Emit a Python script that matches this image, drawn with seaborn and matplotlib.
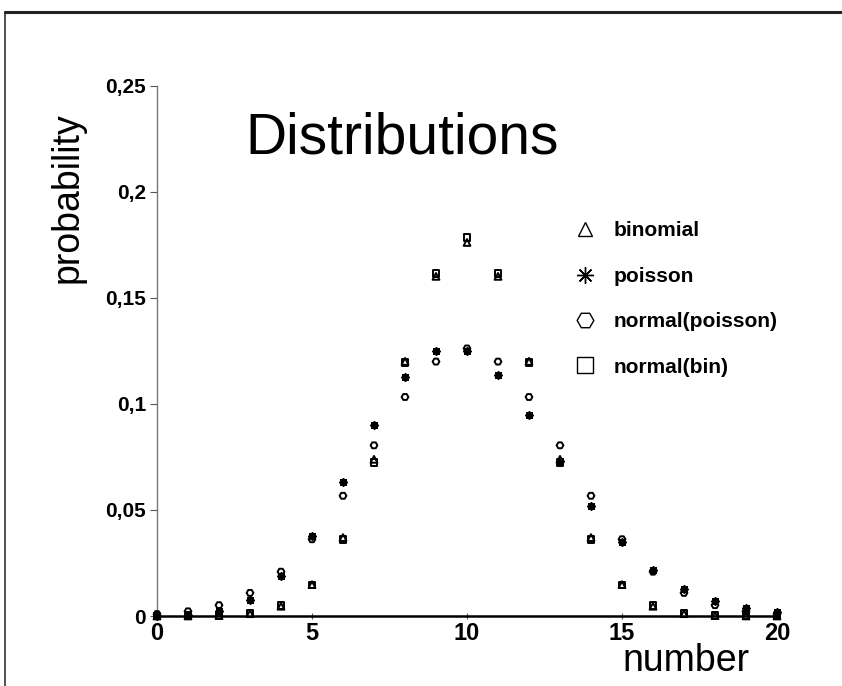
import matplotlib
matplotlib.use("Agg")
import matplotlib.pyplot as plt
import seaborn as sns
import pandas as pd
from matplotlib.lines import Line2D

number = list(range(0, 21))
binomial = [0.000001, 0.00002, 0.0002, 0.0011, 0.0046, 0.0148, 0.0370, 0.0739, 0.1201, 0.1602,
            0.1762, 0.1602, 0.1201, 0.0739, 0.0370, 0.0148, 0.0046, 0.0011, 0.0002, 0.00002, 0.000001]
poisson = [0.00005, 0.0005, 0.0023, 0.0076, 0.0189, 0.0378, 0.0631, 0.0901, 0.1126, 0.1251,
           0.1251, 0.1137, 0.0948, 0.0729, 0.0521, 0.0347, 0.0217, 0.0128, 0.0071, 0.0037, 0.0019]
normal_poisson = [0.0009, 0.0022, 0.0051, 0.0109, 0.0209, 0.0362, 0.0567, 0.0805, 0.1033, 0.1200,
                  0.1262, 0.1200, 0.1033, 0.0805, 0.0567, 0.0362, 0.0209, 0.0109, 0.0051, 0.0022, 0.0009]
normal_bin = [0.0000, 0.00005, 0.0003, 0.0013, 0.0049, 0.0146, 0.0360, 0.0725, 0.1196, 0.1614,
              0.1784, 0.1614, 0.1196, 0.0725, 0.0360, 0.0146, 0.0049, 0.0013, 0.0003, 0.00005, 0.0000]
series_names = ["binomial", "poisson", "normal(poisson)", "normal(bin)"]
y_ticks = [0, 0.05, 0.1, 0.15, 0.2, 0.25]
y_tick_labels = ["0", "0,05", "0,1", "0,15", "0,2", "0,25"]
x_ticks = [0, 5, 10, 15, 20]

df = pd.DataFrame({
    "number": number * 4,
    "probability": binomial + poisson + normal_poisson + normal_bin,
    "dist": sum([[n] * len(number) for n in series_names], []),
})

sns.set_theme(style="white")
plt.rcParams["font.family"] = ["Liberation Sans", "DejaVu Sans"]
plt.rcParams["text.color"] = "black"
plt.rcParams["xtick.color"] = "black"
plt.rcParams["ytick.color"] = "black"

fig = plt.figure(figsize=(8.42, 6.86), dpi=100)
ax = fig.add_axes([157 / 842, 1 - 616 / 686, (777 - 157) / 842, (616 - 86) / 686])

markers = {"binomial": "^", "poisson": (8, 2, 0), "normal(poisson)": "H", "normal(bin)": "s"}
for name in ["normal(bin)", "normal(poisson)", "poisson", "binomial"]:
    sub = df[df["dist"] == name]
    sns.scatterplot(data=sub, x="number", y="probability", marker=markers[name],
                    s=24, facecolor="none" if name != "poisson" else "black",
                    edgecolor="black", linewidth=1.4, color="black", ax=ax,
                    legend=False, clip_on=False, zorder=3)

ax.set_xlim(0, 20)
ax.set_ylim(0, 0.25)
ax.set_xticks(x_ticks)
ax.set_xticklabels([str(v) for v in x_ticks], fontsize=17, fontweight="bold")
ax.set_yticks(y_ticks)
ax.set_yticklabels(y_tick_labels, fontsize=15, fontweight="bold")
ax.tick_params(axis="y", direction="out", length=5, width=0.8, color="#555555", pad=3, left=True)
ax.tick_params(axis="x", direction="inout", length=5, width=0.8, color="#555555", pad=2, bottom=True)
ax.set_xlabel("")
ax.set_ylabel("")
for s in ["top", "right"]:
    ax.spines[s].set_visible(False)
ax.spines["left"].set_color("#777777")
ax.spines["left"].set_linewidth(1.0)
ax.spines["bottom"].set_color("black")
ax.spines["bottom"].set_linewidth(1.8)
ax.patch.set_alpha(0)

fig.text(402 / 842, 1 - 139 / 686, "Distributions", fontsize=41, ha="center", va="center", color="black")
fig.text(68 / 842, 1 - 198 / 686, "probability", fontsize=27, rotation=90, ha="center", va="center", color="black")
fig.text(686 / 842, 1 - 661 / 686, "number", fontsize=27, ha="center", va="center", color="black")

handles = [
    Line2D([], [], marker="^", linestyle="none", markersize=10, markerfacecolor="none", markeredgecolor="black", markeredgewidth=1.0),
    Line2D([], [], marker=(8, 2, 0), linestyle="none", markersize=12, color="black", markeredgewidth=1.0),
    Line2D([], [], marker="H", linestyle="none", markersize=12, markerfacecolor="none", markeredgecolor="black", markeredgewidth=1.0),
    Line2D([], [], marker="s", linestyle="none", markersize=12, markerfacecolor="none", markeredgecolor="black", markeredgewidth=1.0),
]
leg = fig.legend(handles, series_names, loc="upper left", bbox_to_anchor=(556 / 842, 1 - 213 / 686),
                 frameon=False, labelspacing=1.27, handletextpad=0.35, borderaxespad=0,
                 prop={"size": 15, "weight": "bold"})

# outer frame of the figure
fig.add_artist(Line2D([5 / 842, 5 / 842], [0, 1 - 12 / 686], transform=fig.transFigure, color="#333333", lw=1.2))
fig.add_artist(Line2D([5 / 842, 1], [1 - 12 / 686, 1 - 12 / 686], transform=fig.transFigure, color="#222222", lw=2.2))

fig.savefig("out.png", dpi=100, facecolor="white")
